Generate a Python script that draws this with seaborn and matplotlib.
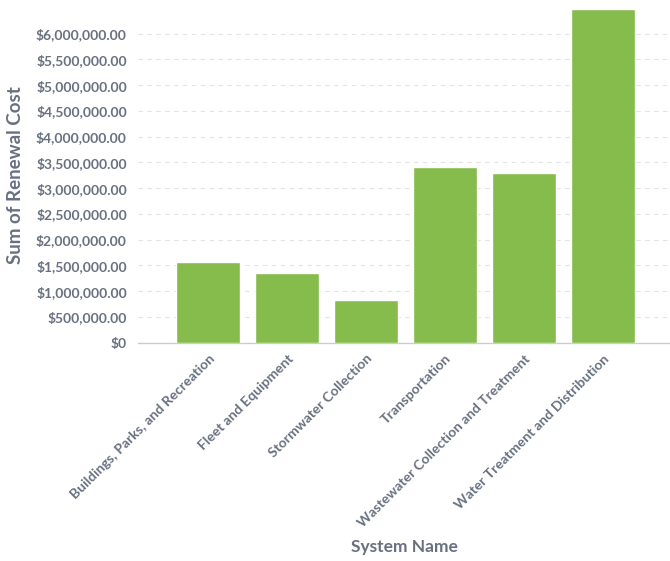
import matplotlib
matplotlib.use("Agg")
import matplotlib.pyplot as plt
import seaborn as sns
import pandas as pd
from matplotlib.ticker import FuncFormatter

categories = ["Buildings, Parks, and Recreation", "Fleet and Equipment", "Stormwater Collection",
              "Transportation", "Wastewater Collection and Treatment", "Water Treatment and Distribution"]
values = [1560000, 1350000, 830000, 3410000, 3290000, 6470000]
yticks = [0, 500000, 1000000, 1500000, 2000000, 2500000, 3000000, 3500000, 4000000,
          4500000, 5000000, 5500000, 6000000]

sns.set_theme(style="white")
plt.rcParams['font.family'] = ['Lato', 'DejaVu Sans']
plt.rcParams['font.weight'] = 'bold'
plt.rcParams['axes.labelweight'] = 'bold'

text_color = "#687080"
df = pd.DataFrame({"System Name": categories, "Sum of Renewal Cost": values})

fig = plt.figure(figsize=(6.7, 5.61), dpi=100)
ax = fig.add_axes([0.206, 0.389, 0.794, 0.597])
sns.barplot(data=df, x="System Name", y="Sum of Renewal Cost", color="#86bc4b",
            saturation=1, width=0.81, ax=ax, zorder=3)

ax.set_xlim(-0.89, 5.85)
ax.set_ylim(0, 6500000)
ax.set_yticks(yticks)
ax.yaxis.set_major_formatter(FuncFormatter(lambda v, p: "$0" if v == 0 else f"${v:,.2f}"))
ax.grid(axis="y", linestyle=(0, (4, 4)), color="#e3e3e3", linewidth=0.8, zorder=0)
for s in ["top", "right", "left"]:
    ax.spines[s].set_visible(False)
ax.spines["bottom"].set_color("#cccccc")
ax.spines["bottom"].set_linewidth(1)
ax.tick_params(axis="y", length=0, colors=text_color, labelsize=10, pad=8)
ax.tick_params(axis="x", length=0, colors=text_color, labelsize=10, pad=7)
ax.set_xticks(range(len(categories)))
ax.set_xticklabels(categories, rotation=45, ha="right", rotation_mode="anchor",
                   fontweight="bold", color=text_color, fontsize=10)
for lab in ax.get_yticklabels():
    lab.set_fontweight("bold")
ax.set_xlabel("System Name", fontsize=12.5, fontweight="bold", color=text_color)
ax.set_ylabel("Sum of Renewal Cost", fontsize=13.5, fontweight="bold", color=text_color)
ax.xaxis.set_label_coords(0.5, -0.585)
ax.yaxis.set_label_coords(-0.214, 0.5)

fig.savefig("out.png", dpi=100)
